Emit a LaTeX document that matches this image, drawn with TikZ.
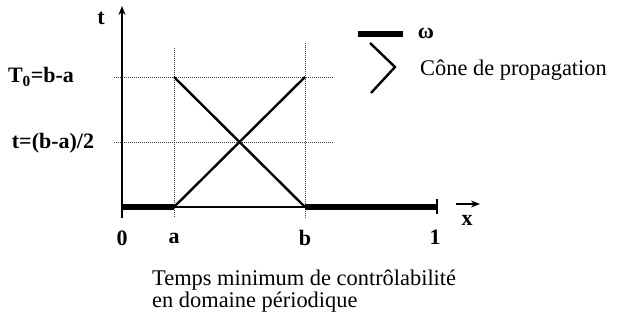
\documentclass[tikz,border=0pt]{standalone}
\usepackage{fontspec}
\setmainfont{Liberation Serif}
\usetikzlibrary{arrows.meta,positioning}

\begin{document}
\begin{tikzpicture}[
    x=1pt, y=-1pt,
    lbl/.style={font=\fontsize{22}{24}\selectfont\bfseries, inner sep=0pt},
    txt/.style={font=\fontsize{22.4}{22}\selectfont, inner sep=0pt, anchor=west},
    gridline/.style={draw=black!75, densely dotted, line width=1pt},
    axis/.style={line width=2pt},
    cone/.style={line width=2.4pt},
    omega/.style={line width=5.5pt},
    >={Stealth[length=9pt,width=7pt]}
]
    \useasboundingbox (0,0) rectangle (627,320);

    % points of the interval
    \coordinate (O) at (122,207);
    \coordinate (A) at (174,207);
    \coordinate (B) at (305,207);
    \coordinate (L) at (436,207);
    \coordinate (At) at (174,77);
    \coordinate (Bt) at (305,77);
    \coordinate (ttop) at (122,6);
    \coordinate (tbot) at (122,218);

    % dotted guides
    \coordinate (h1l) at (114,78);  \coordinate (h1r) at (333,78);
    \coordinate (h2l) at (114,143); \coordinate (h2r) at (333,143);
    \coordinate (vat) at (174,48);  \coordinate (vab) at (174,218);
    \coordinate (vbt) at (305,43);  \coordinate (vbb) at (305,218);
    \draw[gridline] (h1l) -- (h1r);
    \draw[gridline] (h2l) -- (h2r);
    \draw[gridline] (vat) -- (vab);
    \draw[gridline] (vbt) -- (vbb);

    % axes
    \draw[axis,->] (tbot) -- (ttop);
    \draw[line width=1.4pt] (O) -- (L);
    \draw[omega] (O) -- (A);
    \draw[omega] (B) -- (L);
    \coordinate (tk1) at (437,199); \coordinate (tk2) at (437,214);
    \draw[line width=1.4pt] (tk1) -- (tk2);

    % propagation cone
    \draw[cone] (At) -- (B);
    \draw[cone] (A) -- (Bt);

    % labels
    \node[lbl] (tlbl) at (101,18) {t};
    \node[lbl] (T0) at (41,77) {T\textsubscript{0}=b-a};
    \node[lbl] (thalf) at (53,143) {t=(b-a)/2};
    \node[lbl] (zero) at (122,238) {0};
    \node[lbl] (albl) at (174,238) {a};
    \node[lbl] (blbl) at (305,238) {b};
    \node[lbl] (one) at (435,237) {1};
    \node[lbl] (xlbl) at (467,220) {x};
    \coordinate (xa1) at (456,204); \coordinate (xa2) at (480,204);
    \draw[line width=1.4pt,->] (xa1) -- (xa2);

    % legend
    \coordinate (lg1) at (358,34); \coordinate (lg2) at (403,34);
    \draw[omega] (lg1) -- (lg2);
    \node[lbl] (om) at (426,33) {ω};
    \coordinate (c1) at (370,43); \coordinate (c2) at (395,67); \coordinate (c3) at (371,93);
    \draw[cone] (c1) -- (c2) -- (c3);
    \node[txt] (conetxt) at (420,70) {Cône de propagation};

    % caption
    \node[txt, align=left] (caption) at (152,291) {Temps minimum de contrôlabilité\\en domaine périodique};
\end{tikzpicture}
\end{document}
